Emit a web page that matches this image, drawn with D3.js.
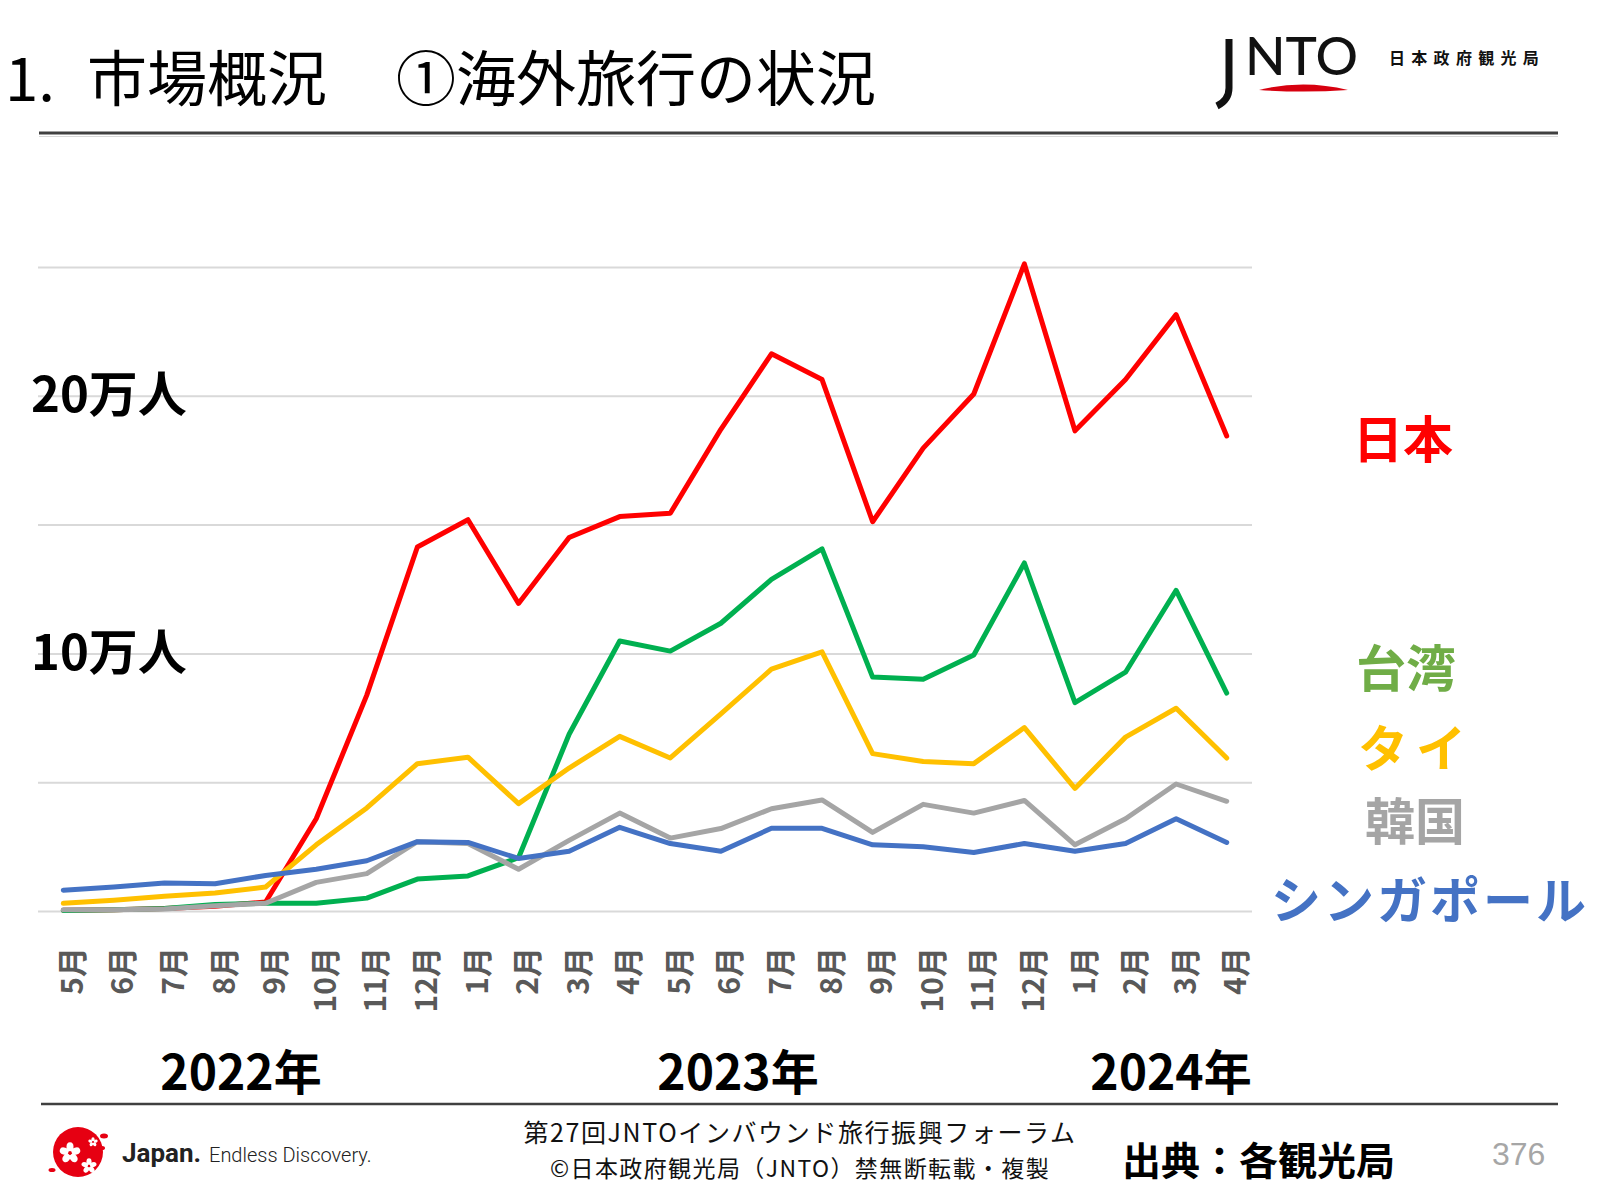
<!DOCTYPE html>
<html><head><meta charset="utf-8">
<script src="https://cdn.jsdelivr.net/npm/d3@7"></script>
<style>body{margin:0;background:#fff}svg{display:block}</style>
</head><body>
<svg id="c" width="1600" height="1200"></svg>
<script>
// ---- data (values in 万人) ----
const months = ["5月","6月","7月","8月","9月","10月","11月","12月","1月","2月","3月","4月",
                "5月","6月","7月","8月","9月","10月","11月","12月","1月","2月","3月","4月"];
const years = ["2022年","2023年","2024年"];
const seriesNames = ["日本","台湾","タイ","韓国","シンガポール"];
const japan     = [0.03,0.05,0.1,0.18,0.35,3.58,8.38,14.13,15.19,11.94,14.5,15.31,15.44,18.7,21.63,20.63,15.11,17.97,20.07,25.12,18.64,20.63,23.15,18.44];
const taiwan    = [0.02,0.05,0.1,0.25,0.3,0.3,0.5,1.24,1.36,2.07,6.86,10.48,10.09,11.17,12.87,14.06,9.08,9.0,9.94,13.51,8.09,9.27,12.45,8.46];
const thailand  = [0.3,0.42,0.57,0.7,0.93,2.57,4.0,5.72,5.97,4.17,5.55,6.78,5.94,7.65,9.39,10.06,6.11,5.8,5.72,7.12,4.76,6.75,7.87,5.94];
const korea     = [0.05,0.05,0.08,0.2,0.3,1.11,1.45,2.69,2.62,1.62,2.74,3.8,2.83,3.2,3.97,4.31,3.05,4.14,3.8,4.29,2.57,3.58,4.93,4.26];
const singapore = [0.81,0.93,1.09,1.06,1.38,1.62,1.95,2.69,2.66,2.04,2.32,3.25,2.62,2.32,3.21,3.21,2.57,2.49,2.27,2.62,2.32,2.62,3.58,2.66];
const yTicks = [0,5,10,15,20,25];
const yLabelValues = [10,20];
const yLabelTexts = ["10万人","20万人"];
const footerLines = ["第27回JNTOインバウンド旅行振興フォーラム","©日本政府観光局（JNTO）禁無断転載・複製"];

const lineColors  = ["#FF0000","#00B050","#FFC000","#A5A5A5","#4472C4"];
const labelColors = ["#FF0000","#70AD47","#FFC000","#A5A5A5","#4472C4"];
const seriesValues = [japan, taiwan, thailand, korea, singapore];

const svg = d3.select("#c");
const CJK = "'Noto Sans CJK JP','Noto Sans',sans-serif";

// ---- header ----
svg.append("text").attr("x",5).attr("y",101).text("1.")
  .style("font","400 60px " + CJK).attr("fill","#000");
svg.append("text").attr("x",87).attr("y",101).text("市場概況")
  .style("font","400 60px " + CJK).attr("fill","#000");
svg.append("text").attr("x",396).attr("y",101).text("①海外旅行の状況")
  .style("font","400 60px " + CJK).attr("fill","#000");
svg.append("line").attr("x1",39).attr("x2",1558).attr("y1",133).attr("y2",133)
  .attr("stroke","#404040").attr("stroke-width",3);
svg.append("line").attr("x1",39).attr("x2",1558).attr("y1",136.5).attr("y2",136.5)
  .attr("stroke","#d8d8d8").attr("stroke-width",1);

// JNTO logo
svg.append("path").attr("d","M1229,39 L1229,88 Q1229,100 1217,106")
  .attr("fill","none").attr("stroke","#111").attr("stroke-width",7);
svg.append("text").attr("x",1245).attr("y",75).text("NTO")
  .style("font","500 53px Lato, 'DejaVu Sans', sans-serif").attr("fill","#111");
svg.append("path").attr("d","M1259,90 Q1303,79 1348,90 Q1303,93 1259,90 Z").attr("fill","#D7000F");
svg.append("text").attr("x",1389).attr("y",64).text("日本政府観光局")
  .style("font","700 16px " + CJK).style("letter-spacing","6.3px").attr("fill","#111");

// ---- scales ----
const x = d3.scalePoint().domain(d3.range(months.length)).range([38,1252]).padding(0.5);
const y = d3.scaleLinear().domain([0,25]).range([911,267]);

// gridlines + y labels
const gy = svg.append("g").attr("transform","translate(38,0)")
  .call(d3.axisLeft(y).tickValues(yTicks).tickSize(-1214)
    .tickFormat(d => { const i = yLabelValues.indexOf(d); return i >= 0 ? yLabelTexts[i] : ""; }));
gy.select(".domain").remove();
gy.selectAll(".tick line").attr("stroke","#D9D9D9").attr("stroke-width",2);
gy.selectAll(".tick text").attr("x",-7).attr("dy",16).style("text-anchor","start")
  .attr("fill","#000").style("font","700 49px " + CJK);

// x axis (months)
const gx = svg.append("g").attr("transform","translate(0,911)")
  .call(d3.axisBottom(x).tickSize(0).tickFormat(i => months[i]));
gx.select(".domain").remove();
gx.selectAll(".tick text").attr("transform","rotate(-90)").attr("x",-36).attr("y",8)
  .attr("dy","0.37em").style("text-anchor","end").attr("fill","#595959")
  .style("font","700 30px " + CJK);

// years
const yearX = [241, 738, 1171];
svg.selectAll(".year").data(years).enter().append("text").attr("class","year")
  .attr("x",(d,i)=>yearX[i]).attr("y",1090).attr("text-anchor","middle").text(d=>d)
  .style("font","700 48px " + CJK).attr("fill","#000");

// ---- lines ----
const line = d3.line().x((d,i)=>x(i)).y(d=>y(d));
seriesValues.forEach((vals, k) => {
  svg.append("path").datum(vals).attr("d", line).attr("fill","none")
    .attr("stroke", lineColors[k]).attr("stroke-width",5)
    .attr("stroke-linejoin","round").attr("stroke-linecap","round");
});

// series labels
const labX = [1403, 1406, 1416, 1415, 1430];
const labY = [458, 687, 767, 840, 919];
const labSp = [0, 0, 8, 0, 3];
seriesNames.forEach((n,k) => {
  svg.append("text").attr("x",labX[k]).attr("y",labY[k]).attr("text-anchor","middle").text(n)
    .style("font","700 50px " + CJK).style("letter-spacing", labSp[k] + "px")
    .attr("fill", labelColors[k]);
});

// ---- footer ----
svg.append("line").attr("x1",41).attr("x2",1558).attr("y1",1104).attr("y2",1104)
  .attr("stroke","#404040").attr("stroke-width",2.5);

// Japan logo
const lg = svg.append("g");
lg.append("circle").attr("cx",78).attr("cy",1152).attr("r",25).attr("fill","#E60012");
function flower(cx, cy, r) {
  for (let a = 0; a < 5; a++) {
    const ang = (a * 72 - 90) * Math.PI / 180;
    const px = cx + Math.cos(ang) * r * 0.55, py = cy + Math.sin(ang) * r * 0.55;
    lg.append("ellipse").attr("cx", px).attr("cy", py)
      .attr("rx", r * 0.42).attr("ry", r * 0.32)
      .attr("transform", `rotate(${a*72 + 90} ${px} ${py})`)
      .attr("fill","#fff");
  }
  lg.append("circle").attr("cx",cx).attr("cy",cy).attr("r",r*0.15).attr("fill","#E60012");
}
flower(70,1153,11);
flower(89,1166,8);
flower(93,1142,5);
lg.append("ellipse").attr("cx",104).attr("cy",1136).attr("rx",4).attr("ry",2.5).attr("fill","#E60012");
lg.append("ellipse").attr("cx",102).attr("cy",1148).attr("rx",3).attr("ry",2).attr("fill","#E60012");
lg.append("ellipse").attr("cx",52).attr("cy",1170).attr("rx",3.5).attr("ry",2).attr("fill","#E60012");
svg.append("text").attr("x",122).attr("y",1162).text("Japan.")
  .style("font","700 26px Roboto, sans-serif").attr("fill","#222");
svg.append("text").attr("x",209).attr("y",1162).text("Endless Discovery.")
  .style("font","300 20px Roboto, sans-serif").attr("fill","#222");

svg.append("text").attr("x",800).attr("y",1142).attr("text-anchor","middle").text(footerLines[0])
  .style("font","400 25px " + CJK).style("letter-spacing","1.6px").attr("fill","#111");
svg.append("text").attr("x",800).attr("y",1177).attr("text-anchor","middle").text(footerLines[1])
  .style("font","400 23px " + CJK).style("letter-spacing","1.4px").attr("fill","#111");

svg.append("text").attr("x",1122).attr("y",1175).text("出典：各観光局")
  .style("font","700 39px " + CJK).attr("fill","#000");
svg.append("text").attr("x",1492).attr("y",1165).text("376")
  .style("font","400 32px 'Liberation Sans Narrow', 'Liberation Sans', sans-serif").attr("fill","#A6A6A6");
</script>
</body></html>
